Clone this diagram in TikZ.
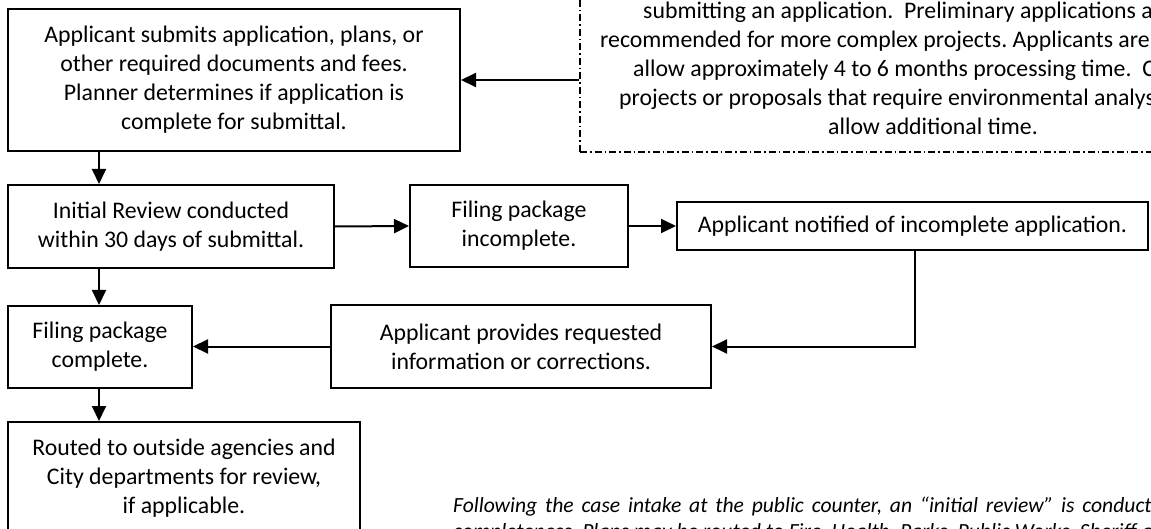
\documentclass[tikz,border=0pt]{standalone}
\usepackage{fontspec}
\setmainfont{Carlito}
\usetikzlibrary{arrows.meta}
\tikzset{
  box/.style={draw=black, line width=2pt, fill=white, align=center, inner sep=0pt,
    font=\fontsize{23.8}{29}\selectfont\frenchspacing},
  arr/.style={line width=2pt, -{Triangle[length=15pt,width=14pt]}},
  dashbox/.style={draw=black, line width=1.3pt, dash pattern=on 7pt off 3pt on 1.5pt off 3pt, inner sep=0pt},
  noteline/.style={anchor=base west, inner sep=0pt, font=\fontsize{23.8}{29}\selectfont\frenchspacing},
  italline/.style={anchor=base west, inner sep=0pt, font=\fontsize{21.6}{26.4}\selectfont\itshape\frenchspacing},
}
\begin{document}
\begin{tikzpicture}[x=1pt,y=-1pt]
\useasboundingbox (0,0) rectangle (1151,529);
\clip (0,0) rectangle (1151,529);
\fill[white] (0,0) rectangle (1151,529);

% dashed note box
\node[dashbox, minimum width=720pt, minimum height=197pt] (dbox) at (940,53.5) {};
\node[noteline] (d1) at (643,19) {submitting an application.~ Preliminary applications are};
\node[noteline] (d2) at (600,48) {recommended for more complex projects. Applicants are advised to};
\node[noteline] (d3) at (633,77) {allow approximately 4 to 6 months processing time.~ Complex};
\node[noteline] (d4) at (619,106) {projects or proposals that require environmental analysis should};
\node[noteline] (d5) at (828,135) {allow additional time.};

% process boxes
\node[box, minimum width=452pt, minimum height=142pt] (A) at (234,80)
  {Applicant submits application, plans, or\\other required documents and fees.\\Planner determines if application is\\complete for submittal.};
\node[box, minimum width=326pt, minimum height=83pt] (B) at (171,226.5)
  {Initial Review conducted\\within 30 days of submittal.};
\node[box, minimum width=218pt, minimum height=82pt] (C) at (519,226)
  {Filing package\\incomplete.};
\node[box, minimum width=471pt, minimum height=48pt] (D) at (912.5,226)
  {Applicant notified of incomplete application.};
\node[box, minimum width=380pt, minimum height=83pt] (E) at (521,346.5)
  {Applicant provides requested\\information or corrections.};
\node[box, minimum width=184pt, minimum height=82pt] (F) at (100,347)
  {Filing package\\complete.};
\node[box, minimum width=352pt, minimum height=113pt] (G) at (184,478.5)
  {Routed to outside agencies and\\City departments for review,\\if applicable.};

% italic note
\node[italline] (n1) at (453,512) {\spaceskip=7.8pt\relax Following the case intake at the public counter, an “initial review” is conducted to determine};
\node[italline] (n2) at (453,538) {completeness. Plans may be routed to Fire, Health, Parks, Public Works, Sheriff and Building};

% connectors
\coordinate (vx) at (99,0);
\coordinate (dx) at (915,0);
\draw[arr] (A.east -| dbox.west) -- (A.east);
\draw[arr] (vx |- A.south) -- (vx |- B.north);
\draw[arr] (B.east) -- (C.west);
\draw[arr] (C.east) -- (D.west);
\draw[arr] (dx |- D.south) |- (E.east);
\draw[arr] (E.west) -- (E.west -| F.east);
\draw[arr] (vx |- B.south) -- (vx |- F.north);
\draw[arr] (vx |- F.south) -- (vx |- G.north);
\end{tikzpicture}
\end{document}
